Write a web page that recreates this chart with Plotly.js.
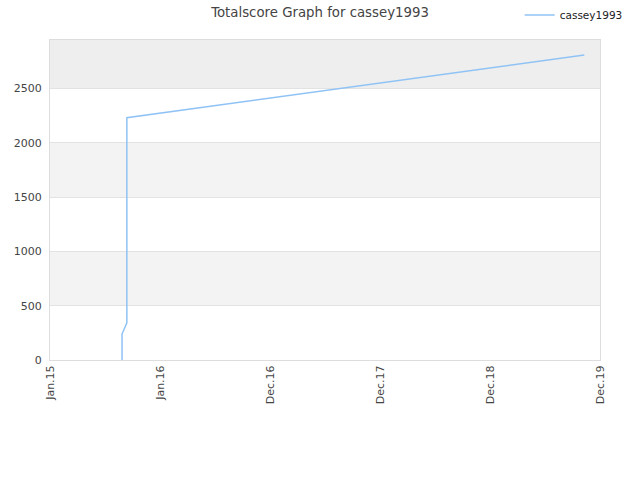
<!DOCTYPE html>
<html>
<head>
<meta charset="utf-8">
<script src="https://cdn.plot.ly/plotly-3.0.1.min.js"></script>
<style>html,body{margin:0;padding:0;background:#fff;}#chart{width:640px;height:480px;}</style>
</head>
<body>
<div id="chart"></div>
<script>
var seriesName = "cassey1993";
var dates = [
  "2015-08-28","2015-08-28","2015-08-28","2015-08-28",
  "2015-09-13","2015-09-13","2015-09-13","2015-09-13","2015-09-13",
  "2015-09-13","2015-09-13","2015-09-13","2015-09-13","2015-09-13",
  "2015-09-13","2015-09-13","2015-09-13","2015-09-13","2015-09-13",
  "2019-11-09"
];
var scores = [
  0, 138, 184, 239,
  343, 450, 558, 567, 650,
  751, 858, 1072, 1183, 1299,
  1388, 1827, 1893, 1985, 2230,
  2806
];
var tickDates = ["2015-01-01","2016-01-01","2016-12-31","2017-12-31","2018-12-31","2019-12-31"];
var tickLabels = ["Jan.15","Jan.16","Dec.16","Dec.17","Dec.18","Dec.19"];
var yTicks = [0, 500, 1000, 1500, 2000, 2500];
var bandEdges = [[500,1000,"#f3f3f3"],[1500,2000,"#f3f3f3"],[2500,2945,"#eeeeee"]];

var shapes = bandEdges.map(function(b){
  return {type:"rect", xref:"paper", yref:"y", x0:0, x1:1, y0:b[0], y1:b[1],
          fillcolor:b[2], line:{width:0}, layer:"below"};
});

var trace = {
  x: dates, y: scores, type: "scatter", mode: "lines", name: seriesName,
  line: {color: "rgb(144,195,245)", width: 1.5}
};

var layout = {
  width: 640, height: 480,
  margin: {l: 50, r: 40, t: 40, b: 120, autoexpand: false},
  paper_bgcolor: "#ffffff", plot_bgcolor: "#ffffff",
  font: {family: "DejaVu Sans", size: 11, color: "#444"},
  title: {text: "Totalscore Graph for cassey1993", font: {size: 13.3, color: "#444"}, x: 0.5, xanchor: "center", y: 0.975, yanchor: "middle"},
  showlegend: true,
  legend: {x: 0.854, xanchor: "left", y: 1.078, yanchor: "middle", orientation: "h", font: {size: 10.5, color: "#222"}, bgcolor: "rgba(0,0,0,0)"},
  xaxis: {
    type: "date", range: ["2015-01-01","2019-12-31"], automargin: false,
    tickmode: "array", tickvals: tickDates, ticktext: tickLabels, tickangle: -90,
    showgrid: false, zeroline: false, showline: true, mirror: true, linecolor: "#dddddd", linewidth: 1,
    ticks: "", fixedrange: true
  },
  yaxis: {
    range: [0, 2945], tickmode: "array", tickvals: yTicks, automargin: false,
    ticklabelstandoff: 5,
    showgrid: true, gridcolor: "#e2e2e2", zeroline: false, showline: true, mirror: true,
    linecolor: "#dddddd", linewidth: 1, ticks: "", fixedrange: true
  },
  shapes: shapes
};

Plotly.newPlot("chart", [trace], layout, {displayModeBar: false, staticPlot: true});
</script>
</body>
</html>
